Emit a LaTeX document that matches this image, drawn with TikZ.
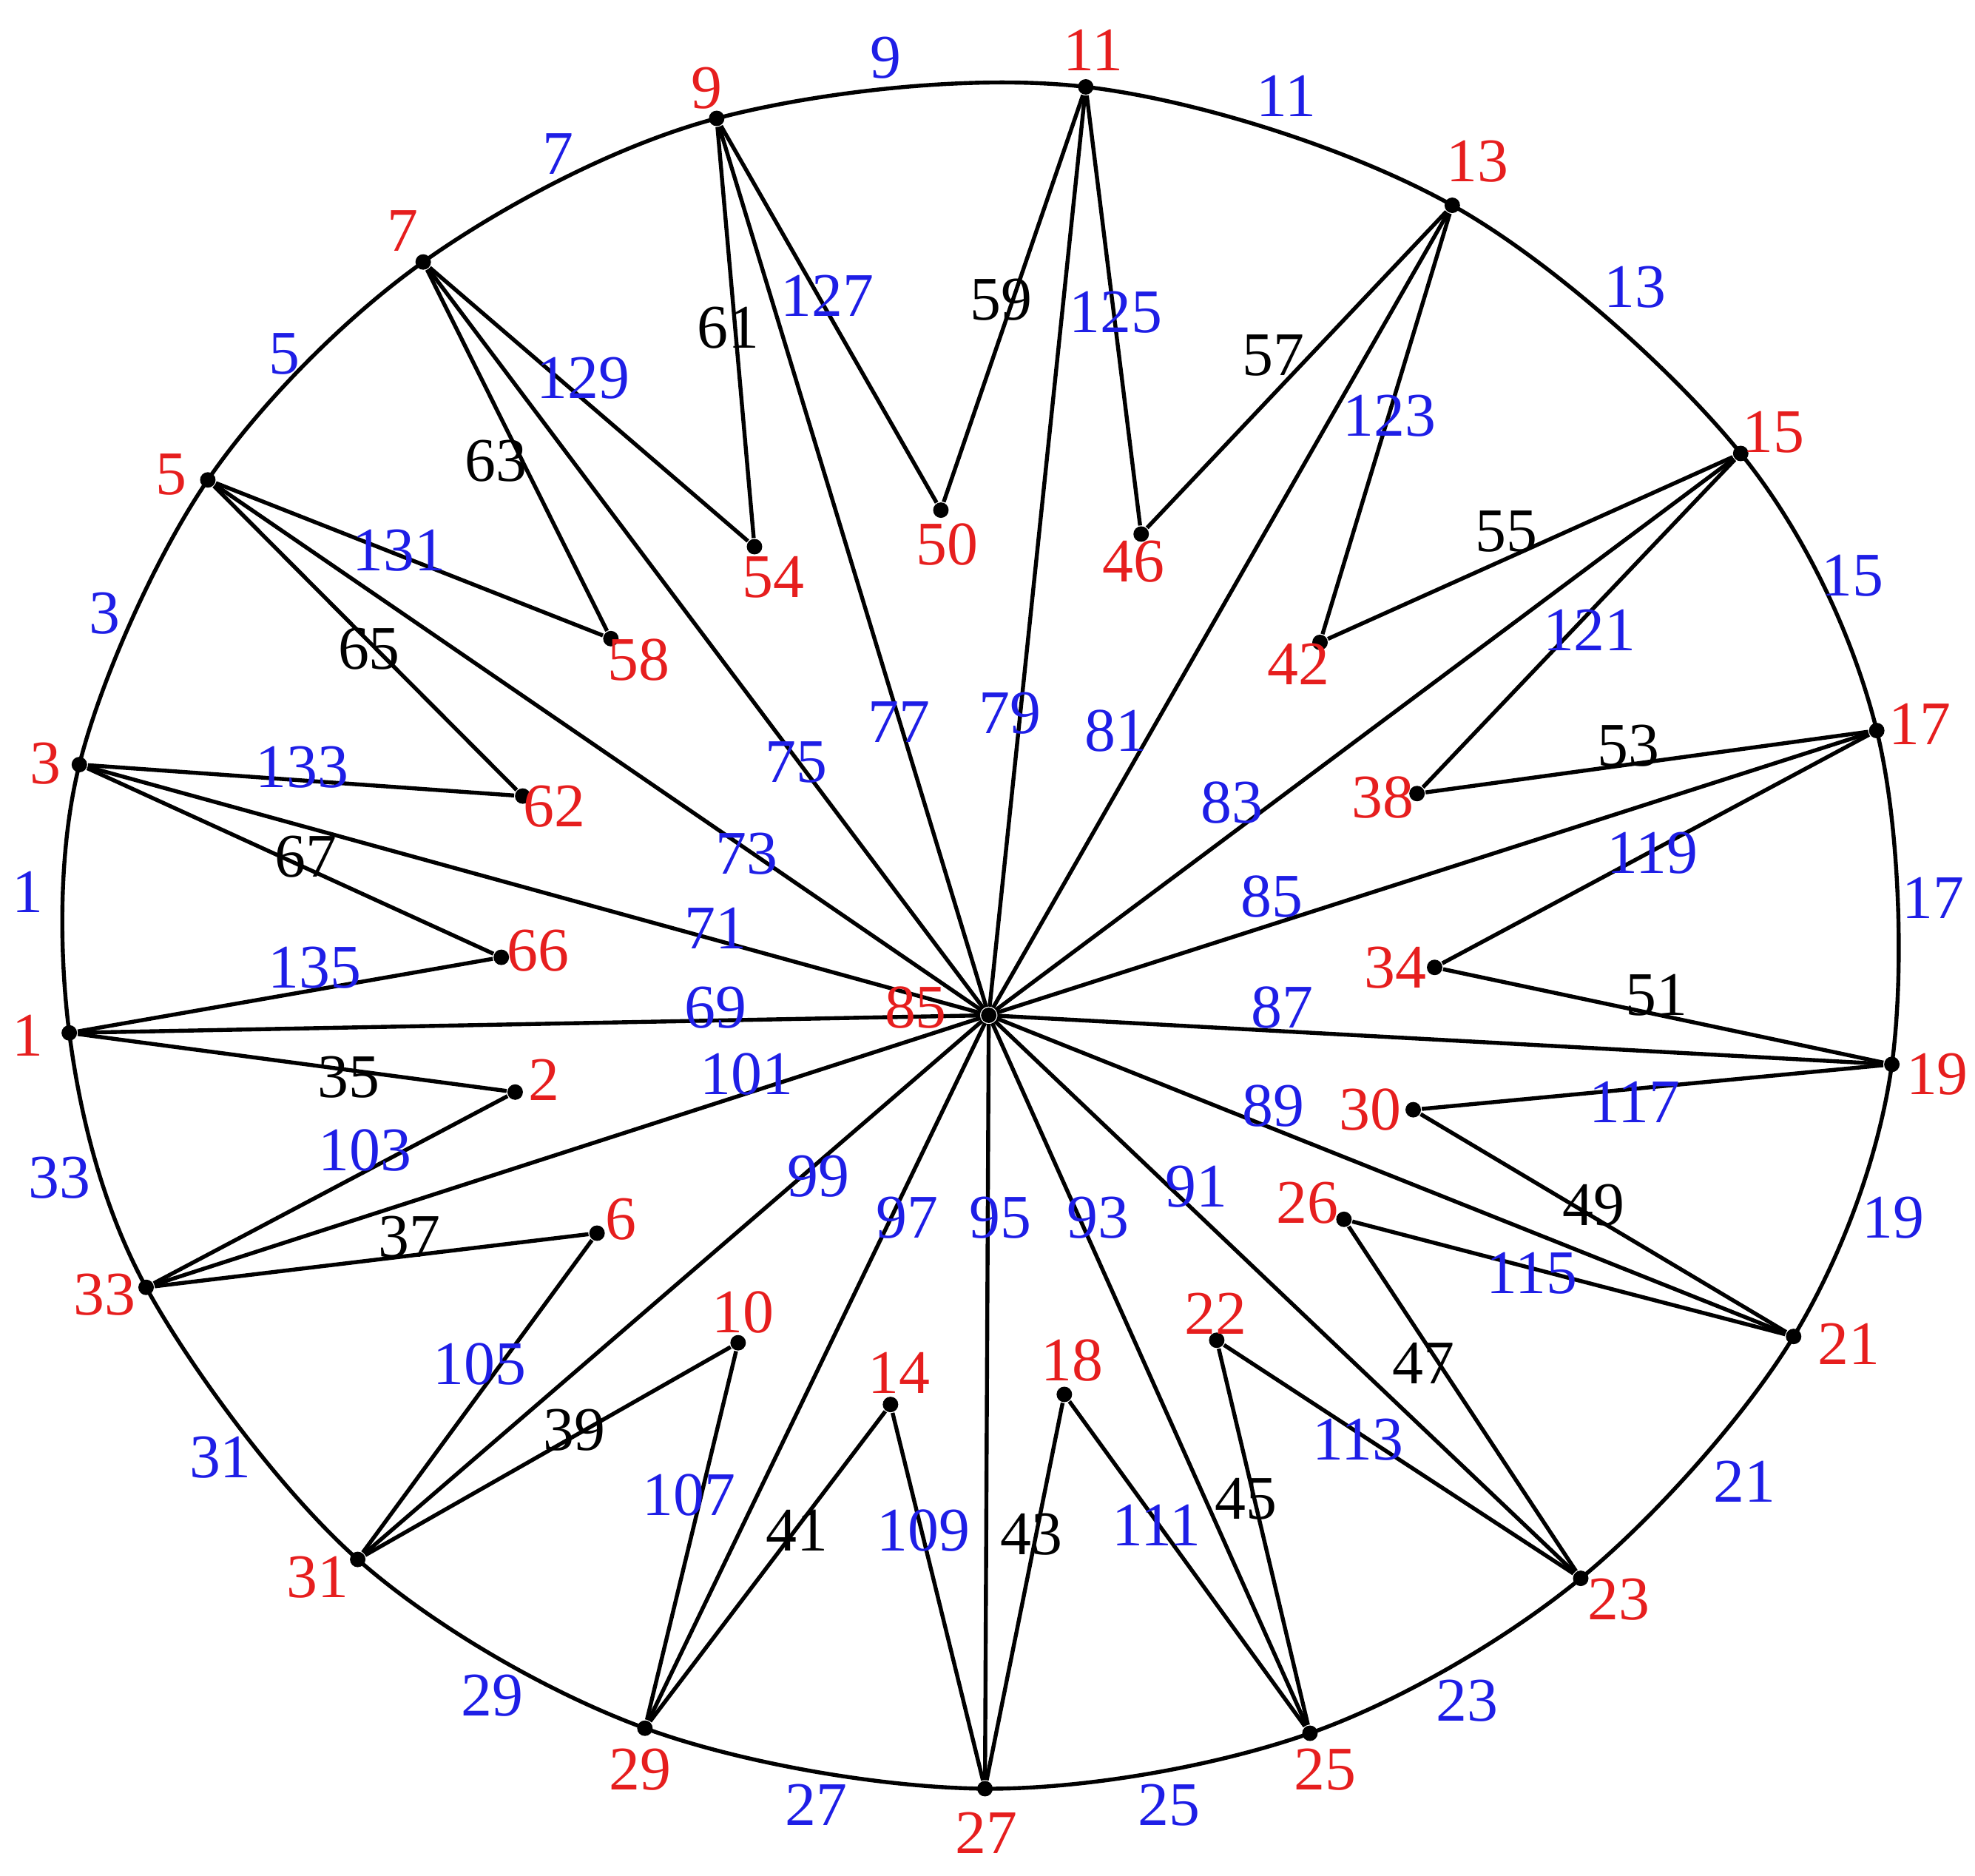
\documentclass[tikz,border=0pt]{standalone}
\usepackage{fontspec}
\setmainfont{Liberation Serif}
\begin{document}
\begin{tikzpicture}[x=0.01cm,y=-0.01cm,
  lbl/.style={inner sep=0pt,font=\fontsize{14}{16}\selectfont},
  vl/.style={lbl,text={rgb,255:red,230;green,30;blue,30}},
  bl/.style={lbl,text={rgb,255:red,30;green,30;blue,230}},
  kl/.style={lbl,text=black},
  edge/.style={line width=0.9pt,black},
  dot/.style={circle,fill=black,inner sep=0pt,minimum size=3.5pt}]
\useasboundingbox (0,0) rectangle (1568,1489);
% vertices
\foreach \n/\x/\y in {1/55/820,3/63/607,5/165/381,7/336/208,9/569/94,11/862/69,13/1153/163,15/1382/360,17/1490/580,19/1502/845,21/1424/1061,23/1255/1253,25/1040/1376,27/782/1420,29/512/1372,31/284/1238,33/116/1022,85/785/806,
2/409/867,6/474/979,10/586/1066,14/707/1115,18/845/1107,22/966/1064,26/1067/968,30/1122/881,34/1139/768,38/1125/630,42/1048/510,46/906/424,50/747/405,54/599/434,58/485/507,62/415/632,66/398/760}
  \node[dot] (v\n) at (\x,\y) {};
% outer boundary
\draw[edge] plot[smooth cycle,tension=0.55] coordinates {(55,820)(63,607)(165,381)(336,208)(569,94)(862,69)(1153,163)(1382,360)(1490,580)(1502,845)(1424,1061)(1255,1253)(1040,1376)(782,1420)(512,1372)(284,1238)(116,1022)};
% spokes
\foreach \a in {1,3,...,33} \draw[edge] (v85) -- (v\a);
% zigzags
\foreach \a/\b in {1/2,2/33,33/6,6/31,31/10,10/29,29/14,14/27,27/18,18/25,25/22,22/23,23/26,26/21,21/30,30/19,19/34,34/17,17/38,38/15,15/42,42/13,13/46,46/11,11/50,50/9,9/54,54/7,7/58,58/5,5/62,62/3,3/66,66/1}
  \draw[edge] (v\a) -- (v\b);
% red vertex labels
\foreach \t/\x/\y in {1/22/822,3/36/606,5/136/377,7/320/183,9/561/70,11/868/40,13/1173/128,15/1408/343,17/1524/575,19/1538/853,21/1468/1067,23/1285/1270,25/1052/1405,27/783/1455,29/508/1405,31/252/1252,33/83/1028,85/727/800,2/432/857,6/493/968,10/590/1042,14/714/1090,18/851/1080,22/965/1043,26/1038/955,30/1088/881,34/1108/768,38/1098/633,42/1031/527,46/900/446,50/752/432,54/614/458,58/507/524,62/440/640,66/427/755}
  \node[vl] (r\t) at (\x,\y) {\t};
% blue arc labels
\foreach \t/\x/\y in {1/22/708,3/83/487,5/226/281,7/443/122,9/703/46,11/1021/76,13/1298/228,15/1471/457,17/1535/713,19/1503/967,21/1385/1176,23/1165/1350,25/928/1433,27/648/1433,29/391/1346,31/175/1157,33/47/935}
  \node[bl] (a\t) at (\x,\y) {\t};
% black edge labels
\foreach \t/\x/\y in {35/277/855,37/325/982,39/456/1135,41/633/1215,43/819/1218,45/989/1190,47/1130/1082,49/1265/957,51/1315/790,53/1293/592,55/1196/422,57/1011/282,59/795/238,61/578/260,63/394/366,65/293/515,67/243/680}
  \node[kl] (k\t) at (\x,\y) {\t};
% blue edge labels
\foreach \t/\x/\y in {69/568/800,71/568/737,73/593/678,75/632/605,77/714/573,79/802/566,81/886/580,83/978/637,85/1010/712,87/1018/800,89/1011/878,91/950/942,93/872/967,95/794/967,97/720/967,99/650/934,101/593/853,103/290/913,105/381/1083,107/547/1187,109/733/1215,111/918/1211,113/1078/1143,115/1216/1011,117/1298/875,119/1312/677,121/1262/500,123/1103/330,125/886/248,127/657/235,129/463/300,131/317/437,133/240/609,135/250/768}
  \node[bl] (e\t) at (\x,\y) {\t};
\end{tikzpicture}
\end{document}
